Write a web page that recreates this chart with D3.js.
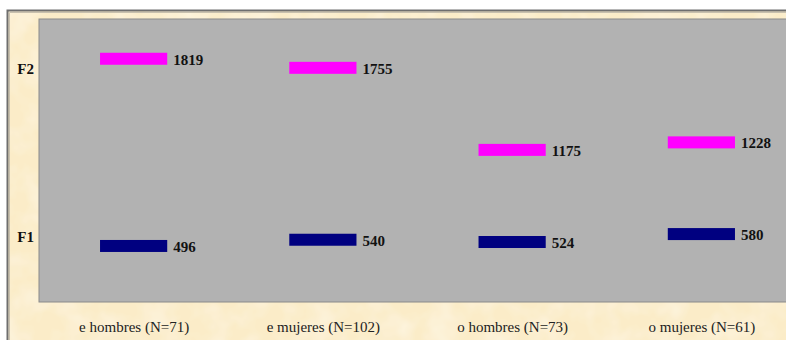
<!DOCTYPE html>
<html lang="es">

<head>
	<title>F1 F2</title>
	<meta charset="utf-8">
	<script src="https://cdn.jsdelivr.net/npm/d3@7"></script>
	<style>
		html, body { margin: 0; padding: 0; background: #ffffff; }
		svg { display: block; }
	</style>
</head>

<body>
	<div id="container1"></div>
	<script>
		// Data
		const categories = ["e hombres (N=71)", "e mujeres (N=102)", "o hombres (N=73)", "o mujeres (N=61)"];
		const f2Values = [1819, 1755, 1175, 1228];
		const f1Values = [496, 540, 524, 580];
		const axisLabels = ["F1", "F2"];
		const axisLabelValues = [560, 1750];

		// Chart dimensions
		const width = 786;
		const height = 340;
		const plot = { left: 39, top: 19, right: 796, bottom: 302 };

		const svg = d3.select("#container1")
			.append("svg")
			.attr("width", width)
			.attr("height", height);

		// Parchment background
		const defs = svg.append("defs");
		const filter = defs.append("filter")
			.attr("id", "paper")
			.attr("x", 0).attr("y", 0).attr("width", "100%").attr("height", "100%");
		filter.append("feTurbulence")
			.attr("type", "fractalNoise")
			.attr("baseFrequency", 0.035)
			.attr("numOctaves", 3)
			.attr("seed", 4)
			.attr("result", "noise");
		filter.append("feColorMatrix")
			.attr("in", "noise")
			.attr("type", "matrix")
			.attr("values", "0 0 0 0 1  0 0 0 0 0.97  0 0 0 0 0.88  0 0 0 -0.9 0.55")
			.attr("result", "spots");
		filter.append("feComposite")
			.attr("in", "spots")
			.attr("in2", "SourceGraphic")
			.attr("operator", "atop");

		svg.append("rect")
			.attr("x", 7).attr("y", 10)
			.attr("width", width).attr("height", height)
			.attr("fill", "#fbecc8")
			.attr("filter", "url(#paper)");

		svg.append("path")
			.attr("d", `M7.5,${height} V10.5 H${width}`)
			.attr("fill", "none")
			.attr("stroke", "#6e6e6e")
			.attr("stroke-width", 2);
		svg.append("path")
			.attr("d", `M9.5,${height} V12.5 H${width}`)
			.attr("fill", "none")
			.attr("stroke", "#c8c0ae")
			.attr("stroke-width", 1);

		// Scales
		const xScale = d3.scalePoint()
			.domain(categories)
			.range([plot.left, plot.right])
			.padding(0.5);

		const yScale = d3.scaleLinear()
			.domain([100, 2100])
			.range([plot.bottom, plot.top]);

		const barWidth = xScale.step() * 0.355;
		const barHeight = 12;

		// Plot area
		svg.append("rect")
			.attr("x", plot.left)
			.attr("y", plot.top)
			.attr("width", plot.right - plot.left)
			.attr("height", plot.bottom - plot.top)
			.attr("fill", "#b2b2b2")
			.attr("stroke", "#8a8a8a")
			.attr("stroke-width", 1);

		// Axes
		svg.append("g")
			.attr("transform", `translate(${plot.left}, 0)`)
			.call(d3.axisLeft(yScale)
				.tickValues(axisLabelValues)
				.tickFormat((d, i) => axisLabels[i])
				.tickSize(0)
				.tickPadding(5))
			.call(g => g.select(".domain").remove())
			.selectAll("text")
			.style("font-family", "'Liberation Serif', 'Times New Roman', serif")
			.style("font-size", "15px")
			.style("font-weight", "bold")
			.style("fill", "#111");

		svg.append("g")
			.attr("transform", `translate(0, ${plot.bottom})`)
			.call(d3.axisBottom(xScale).tickSize(0).tickPadding(19))
			.call(g => g.select(".domain").remove())
			.selectAll("text")
			.style("font-family", "'Liberation Serif', 'Times New Roman', serif")
			.style("font-size", "15px")
			.style("fill", "#222");

		// Bars
		const series = [
			{ name: "F2", values: f2Values, color: "#ff00ff" },
			{ name: "F1", values: f1Values, color: "#000080" }
		];

		const groups = svg.append("g")
			.selectAll("g")
			.data(series)
			.join("g");

		groups.selectAll("rect")
			.data(s => s.values.map((v, i) => ({ v, cat: categories[i], color: s.color })))
			.join("rect")
			.attr("x", d => xScale(d.cat) - barWidth / 2)
			.attr("y", d => yScale(d.v) - barHeight / 2)
			.attr("width", barWidth)
			.attr("height", barHeight)
			.attr("fill", d => d.color);

		groups.selectAll("text")
			.data(s => s.values.map((v, i) => ({ v, cat: categories[i] })))
			.join("text")
			.attr("x", d => xScale(d.cat) + barWidth / 2 + 6)
			.attr("y", d => yScale(d.v) + 6)
			.style("font-family", "'Liberation Serif', 'Times New Roman', serif")
			.style("font-size", "15px")
			.style("font-weight", "bold")
			.style("fill", "#111")
			.text(d => d.v);
	</script>
</body>

</html>
